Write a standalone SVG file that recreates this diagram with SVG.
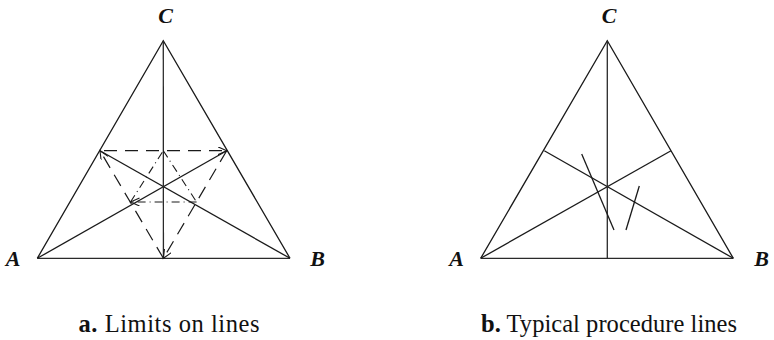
<svg xmlns="http://www.w3.org/2000/svg" width="774" height="340" viewBox="0 0 774 340">
<style>
.edge{stroke:#1a1a1a;stroke-width:1.3;fill:none;stroke-linecap:butt}
.fine{stroke:#2a2a2a;stroke-width:1.3;fill:none}
.dash{stroke:#1a1a1a;stroke-width:1.2;fill:none;stroke-dasharray:13 8}
.dashdot{stroke:#1a1a1a;stroke-width:1.1;fill:none;stroke-dasharray:8 4 1 4}
.lbl{font-family:"Liberation Serif",serif;font-size:22px;font-weight:bold;font-style:italic;fill:#111;text-anchor:middle}
.cap{font-family:"Liberation Serif",serif;font-size:24.5px;fill:#111}
</style>
<defs>
<marker id="arr" markerWidth="12" markerHeight="10" refX="9" refY="4" orient="auto" markerUnits="userSpaceOnUse">
<path d="M0,0 L9,4 L0,8" fill="none" stroke="#1a1a1a" stroke-width="1.1"/>
</marker>
</defs>

<g id="triangle-a">
<path class="edge" d="M37.3,258.3 L163.3,40.7 L290,258.3"/>
<line class="fine" x1="37.3" y1="258.3" x2="290" y2="258.3"/>
</g>
<g id="triangle-b">
<path class="edge" d="M480.7,258.3 L607.3,40.7 L733.3,258.3"/>
<line class="fine" x1="480.7" y1="258.3" x2="733.3" y2="258.3"/>
</g>

<g id="connectors">
<line class="edge" x1="37.3" y1="258.3" x2="226.7" y2="150.7"/>
<line class="edge" x1="290" y1="258.3" x2="100" y2="150.7"/>
<line class="fine" x1="163.3" y1="40.7" x2="163.4" y2="258.3"/>
<line class="dash" x1="104" y1="150.7" x2="226.7" y2="150.7" marker-end="url(#arr)"/>
<line class="dash" x1="226.7" y1="150.7" x2="163.4" y2="258.3" marker-end="url(#arr)"/>
<line class="dash" x1="163.4" y1="258.3" x2="100" y2="150.7" marker-end="url(#arr)"/>
<line class="dashdot" x1="196.6" y1="202" x2="130.5" y2="202" marker-end="url(#arr)"/>
<line class="dashdot" x1="130.5" y1="202" x2="163.3" y2="150.7"/>
<line class="dashdot" x1="163.3" y1="150.7" x2="196.6" y2="202"/>
<line class="edge" x1="480.7" y1="258.3" x2="671" y2="150.7"/>
<line class="edge" x1="733.3" y1="258.3" x2="544.3" y2="150.7"/>
<line class="fine" x1="607.3" y1="40.7" x2="607.3" y2="258.3"/>
<line class="edge" x1="581.7" y1="154" x2="614" y2="230"/>
<line class="edge" x1="639.3" y1="186" x2="626" y2="230"/>
</g>

<g id="labels">
<text class="lbl" x="165.5" y="23">C</text>
<text class="lbl" x="13" y="266">A</text>
<text class="lbl" x="317.5" y="266">B</text>
<text class="lbl" x="609" y="23">C</text>
<text class="lbl" x="456.5" y="266">A</text>
<text class="lbl" x="761.5" y="266">B</text>
<text class="cap" x="78.5" y="332" textLength="181" lengthAdjust="spacing"><tspan font-weight="bold">a.</tspan> Limits on lines</text>
<text class="cap" x="481" y="332" textLength="256" lengthAdjust="spacing"><tspan font-weight="bold">b.</tspan> Typical procedure lines</text>
</g>
</svg>
